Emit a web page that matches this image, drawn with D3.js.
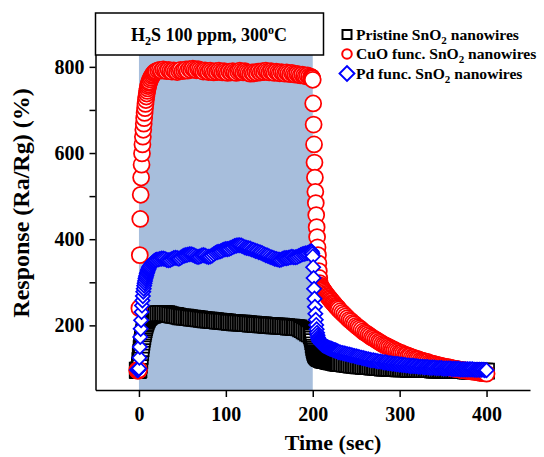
<!DOCTYPE html>
<html>
<head>
<meta charset="utf-8">
<script src="https://cdn.jsdelivr.net/npm/d3@7"></script>
<style>
	body { margin: 0; background: #ffffff; }
	svg { display: block; }
</style>
</head>
<body>
<svg width="544" height="457"></svg>
<script>
/* DATA */
// sampling times (sec) - finer steps around gas in / gas out
var time = [].concat(
	d3.range(-2, 12, 0.5),
	d3.range(12, 20, 1),
	d3.range(20, 198, 2),
	d3.range(198, 212, 0.5),
	d3.range(212, 230, 1),
	d3.range(230, 401, 2)
);

var pristine = [
	96, 95, 95, 96, 97, 108, 118, 128, 137, 146, 154, 161, 168, 174, 180, 185, 190, 195, 199, 203, 206, 209, 212, 214, 216, 218, 219, 220,
	221, 222, 223, 224, 224, 225, 225, 226,
	226, 227, 227, 228, 228, 227, 227, 226, 225, 224,
	223, 223, 222, 221, 220, 220, 219, 219, 218, 218,
	217, 217, 216, 216, 215, 215, 214, 214, 213, 213,
	212, 212, 211, 211, 211, 210, 210, 209, 209, 209,
	208, 208, 207, 207, 207, 206, 206, 206, 205, 205,
	205, 204, 204, 204, 203, 203, 203, 202, 202, 202,
	201, 201, 201, 200, 200, 200, 200, 199, 199, 199,
	198, 198, 198, 197, 197, 197, 196, 196, 196, 195,
	195, 195, 194, 192, 190, 187, 185, 182, 180,
	178, 176, 173, 168, 162, 155, 149, 144, 140, 137, 134, 132, 130, 129, 128, 127, 126, 125, 124, 124, 123, 123, 122, 122, 121, 121, 120, 120,
	120, 119, 119, 118, 118, 117, 117, 116, 116, 115, 115, 115, 114, 114, 113, 113, 113, 112,
	112, 111, 111, 110, 110, 109, 109, 108, 108, 107,
	107, 106, 106, 106, 105, 105, 104, 104, 104, 103,
	103, 103, 102, 102, 102, 101, 101, 101, 101, 100,
	100, 100, 100, 100, 99, 99, 99, 99, 99, 99,
	98, 98, 98, 98, 98, 98, 97, 97, 97, 97,
	97, 97, 97, 97, 96, 96, 96, 96, 96, 96,
	96, 96, 96, 95, 95, 95, 95, 95, 95, 95,
	95, 95, 95, 94, 94, 94, 94, 94, 94, 94,
	94, 94, 94, 94, 94, 94
];

var cuo = [
	96, 95, 95, 96, 97, 240, 363, 447, 503, 543, 573, 599, 620, 638, 654, 668, 681, 693, 704, 714, 723, 731, 738, 744, 750, 755, 759, 763,
	766, 771, 775, 779, 782, 785, 787, 789,
	790, 792, 793, 791, 794, 792, 790, 793, 791, 789,
	792, 790, 788, 791, 793, 790, 792, 794, 791, 795,
	793, 796, 794, 792, 795, 793, 791, 789, 792, 790,
	788, 791, 789, 787, 790, 788, 791, 789, 787, 790,
	788, 786, 789, 787, 790, 788, 786, 789, 791, 789,
	787, 790, 788, 786, 784, 787, 785, 788, 786, 789,
	787, 790, 788, 791, 789, 787, 790, 788, 786, 789,
	787, 785, 788, 786, 784, 787, 785, 783, 786, 784,
	782, 784, 782, 780, 782, 780, 778, 780, 778,
	777, 776, 775, 773, 770, 715, 666, 620, 578, 543, 510, 484, 456, 428, 405, 381, 363, 344, 326, 310, 298, 293, 290, 289, 287, 286, 284, 283,
	282, 279, 276, 273, 271, 268, 266, 263, 261, 258, 256, 253, 251, 249, 246, 244, 242, 240,
	237, 233, 229, 225, 221, 217, 213, 210, 206, 203,
	199, 196, 193, 190, 186, 183, 181, 178, 175, 172,
	170, 167, 165, 162, 160, 157, 155, 153, 151, 149,
	147, 145, 143, 141, 139, 137, 136, 134, 132, 131,
	129, 128, 126, 125, 123, 122, 121, 119, 118, 117,
	116, 115, 113, 112, 111, 110, 109, 108, 107, 106,
	105, 104, 103, 103, 102, 101, 100, 99, 99, 98,
	97, 96, 96, 95, 95, 94, 93, 93, 92, 92,
	91, 90, 90, 89, 89, 88
];

var pd = [
	97, 96, 97, 98, 100, 125, 150, 173, 192, 212, 231, 246, 258, 268, 278, 285, 292, 298, 303, 308, 312, 316, 320, 323, 326, 329, 331, 334,
	336, 339, 342, 344, 346, 348, 349, 351,
	352, 353, 354, 355, 355, 354, 352, 351, 352, 354,
	356, 357, 356, 355, 357, 360, 362, 363, 364, 365,
	365, 364, 362, 360, 359, 360, 362, 363, 362, 360,
	359, 360, 362, 365, 368, 370, 371, 372, 374, 376,
	377, 377, 378, 380, 382, 384, 385, 386, 386, 385,
	383, 381, 380, 379, 378, 376, 375, 373, 372, 370,
	369, 367, 365, 363, 362, 360, 358, 357, 355, 354,
	353, 352, 353, 355, 356, 356, 357, 358, 359, 358,
	358, 359, 361, 363, 365, 366, 367, 368, 370,
	371, 372, 370, 366, 360, 335, 310, 285, 262, 243, 227, 213, 201, 191, 183, 177, 172, 169, 166, 164, 162, 161, 160, 159, 158, 157, 156, 155,
	154, 153, 152, 151, 150, 149, 148, 147, 146, 146, 145, 144, 143, 142, 142, 141, 140, 139,
	138, 137, 136, 135, 134, 133, 132, 131, 130, 129,
	128, 127, 126, 125, 124, 123, 122, 121, 120, 119,
	119, 118, 117, 116, 116, 115, 114, 114, 113, 112,
	112, 111, 111, 110, 110, 109, 109, 108, 108, 107,
	107, 106, 106, 106, 105, 105, 104, 104, 104, 103,
	103, 103, 102, 102, 102, 102, 101, 101, 101, 101,
	100, 100, 100, 100, 100, 99, 99, 99, 99, 99,
	98, 98, 98, 98, 98, 98, 98, 98, 97, 97,
	97, 97, 97, 97, 96, 96
];

var legendNames = ["Pristine SnO", "CuO func. SnO", "Pd func. SnO"];
var xTicks = [0, 100, 200, 300, 400];
var yTicks = [200, 300, 400, 500, 600, 700, 800];
var yLabels = [200, 400, 600, 800];
var gasOn = [0, 200];

function draw_chart() {
	var svg = d3.select("svg");
	var font = "'Liberation Serif', 'Times New Roman', serif";

	svg.append("rect").attr("width", 544).attr("height", 457).attr("fill", "#ffffff");

	/* SCALES */
	var x = d3.scaleLinear().domain([-50, 450]).range([95.5, 530]);
	var y = d3.scaleLinear().domain([50, 925]).range([390, 13]);

	/* GAS ON SHADING */
	svg.append("rect")
		.attr("x", x(gasOn[0]))
		.attr("y", y(925))
		.attr("width", x(gasOn[1]) - x(gasOn[0]))
		.attr("height", y(50) - y(925))
		.attr("fill", "#a7bedc");

	/* SERIES */
	var series = [
		{ values: pristine, color: "#000000", shape: "square" },
		{ values: cuo, color: "#ff0000", shape: "circle" },
		{ values: pd, color: "#0000ff", shape: "diamond" }
	];

	var symbols = {
		square: d3.symbol().type(d3.symbolSquare).size(225)(),
		circle: d3.symbol().type(d3.symbolCircle).size(201)(),
		diamond: d3.symbol().type(d3.symbolSquare).size(100)()
	};

	series.forEach(function (s) {
		svg.append("g")
			.selectAll("path")
			.data(time)
			.enter()
			.append("path")
			.attr("d", symbols[s.shape])
			.attr("transform", function (t, i) {
				var tr = "translate(" + x(t) + "," + y(s.values[i]) + ")";
				return s.shape == "diamond" ? tr + " rotate(45)" : tr;
			})
			.attr("fill", "#ffffff")
			.attr("stroke", s.color)
			.attr("stroke-width", 1.75);
	});

	/* AXES */
	var yAxis = svg.append("g")
		.attr("transform", "translate(" + x(-50) + ",0)")
		.call(d3.axisLeft(y)
			.tickValues(yTicks)
			.tickSize(6)
			.tickSizeOuter(0)
			.tickPadding(5)
			.tickFormat(function (d) {
				return yLabels.indexOf(d) >= 0 ? d : "";
			}));

	var xAxis = svg.append("g")
		.attr("transform", "translate(0," + y(50) + ")")
		.call(d3.axisBottom(x)
			.tickValues(xTicks)
			.tickSize(7)
			.tickSizeOuter(0)
			.tickPadding(10));

	[xAxis, yAxis].forEach(function (a) {
		a.selectAll("path, line").attr("stroke", "#000").attr("stroke-width", 1.5);
		a.selectAll("text")
			.attr("font-family", font)
			.attr("font-weight", "bold")
			.attr("font-size", 20)
			.attr("fill", "#000");
	});

	/* TITLE BOX */
	svg.append("rect")
		.attr("x", x(-50))
		.attr("y", 13)
		.attr("width", 228)
		.attr("height", 42)
		.attr("fill", "#ffffff")
		.attr("stroke", "#000")
		.attr("stroke-width", 1.5);

	var title = svg.append("text")
		.attr("x", 209)
		.attr("y", 41)
		.attr("text-anchor", "middle")
		.attr("font-family", font)
		.attr("font-weight", "bold")
		.attr("font-size", 18);
	title.append("tspan").text("H");
	title.append("tspan").attr("dy", 4).attr("font-size", 12).text("2");
	title.append("tspan").attr("dy", -4).text("S 100 ppm, 300");
	title.append("tspan").attr("dy", -7).attr("font-size", 12).text("o");
	title.append("tspan").attr("dy", 7).text("C");

	/* AXIS TITLES */
	svg.append("text")
		.attr("x", 333)
		.attr("y", 450)
		.attr("text-anchor", "middle")
		.attr("font-family", font)
		.attr("font-weight", "bold")
		.attr("font-size", 22)
		.text("Time (sec)");

	svg.append("text")
		.attr("transform", "translate(29,203) rotate(-90)")
		.attr("text-anchor", "middle")
		.attr("font-family", font)
		.attr("font-weight", "bold")
		.attr("font-size", 24)
		.text("Response (Ra/Rg) (%)");

	/* LEGEND */
	var legendSymbols = [
		d3.symbol().type(d3.symbolSquare).size(81)(),
		d3.symbol().type(d3.symbolCircle).size(72)(),
		d3.symbol().type(d3.symbolSquare).size(110)()
	];

	var legend = svg.append("g")
		.selectAll("g")
		.data(legendNames)
		.enter()
		.append("g")
		.attr("transform", function (d, i) {
			return "translate(347," + (34.5 + i * 19.5) + ")";
		});

	legend.append("path")
		.attr("d", function (d, i) {
			return legendSymbols[i];
		})
		.attr("transform", function (d, i) {
			return i == 2 ? "rotate(45)" : null;
		})
		.attr("fill", "#ffffff")
		.attr("stroke", function (d, i) {
			return series[i].color;
		})
		.attr("stroke-width", 2);

	var legendText = legend.append("text")
		.attr("x", 9)
		.attr("y", 5)
		.attr("font-family", font)
		.attr("font-weight", "bold")
		.attr("font-size", 15.6)
		.attr("fill", "#000");
	legendText.append("tspan").text(function (d) { return d; });
	legendText.append("tspan").attr("dy", 4).attr("font-size", 11).text("2");
	legendText.append("tspan").attr("dy", -4).text(" nanowires");
}

draw_chart();
</script>
</body>
</html>
